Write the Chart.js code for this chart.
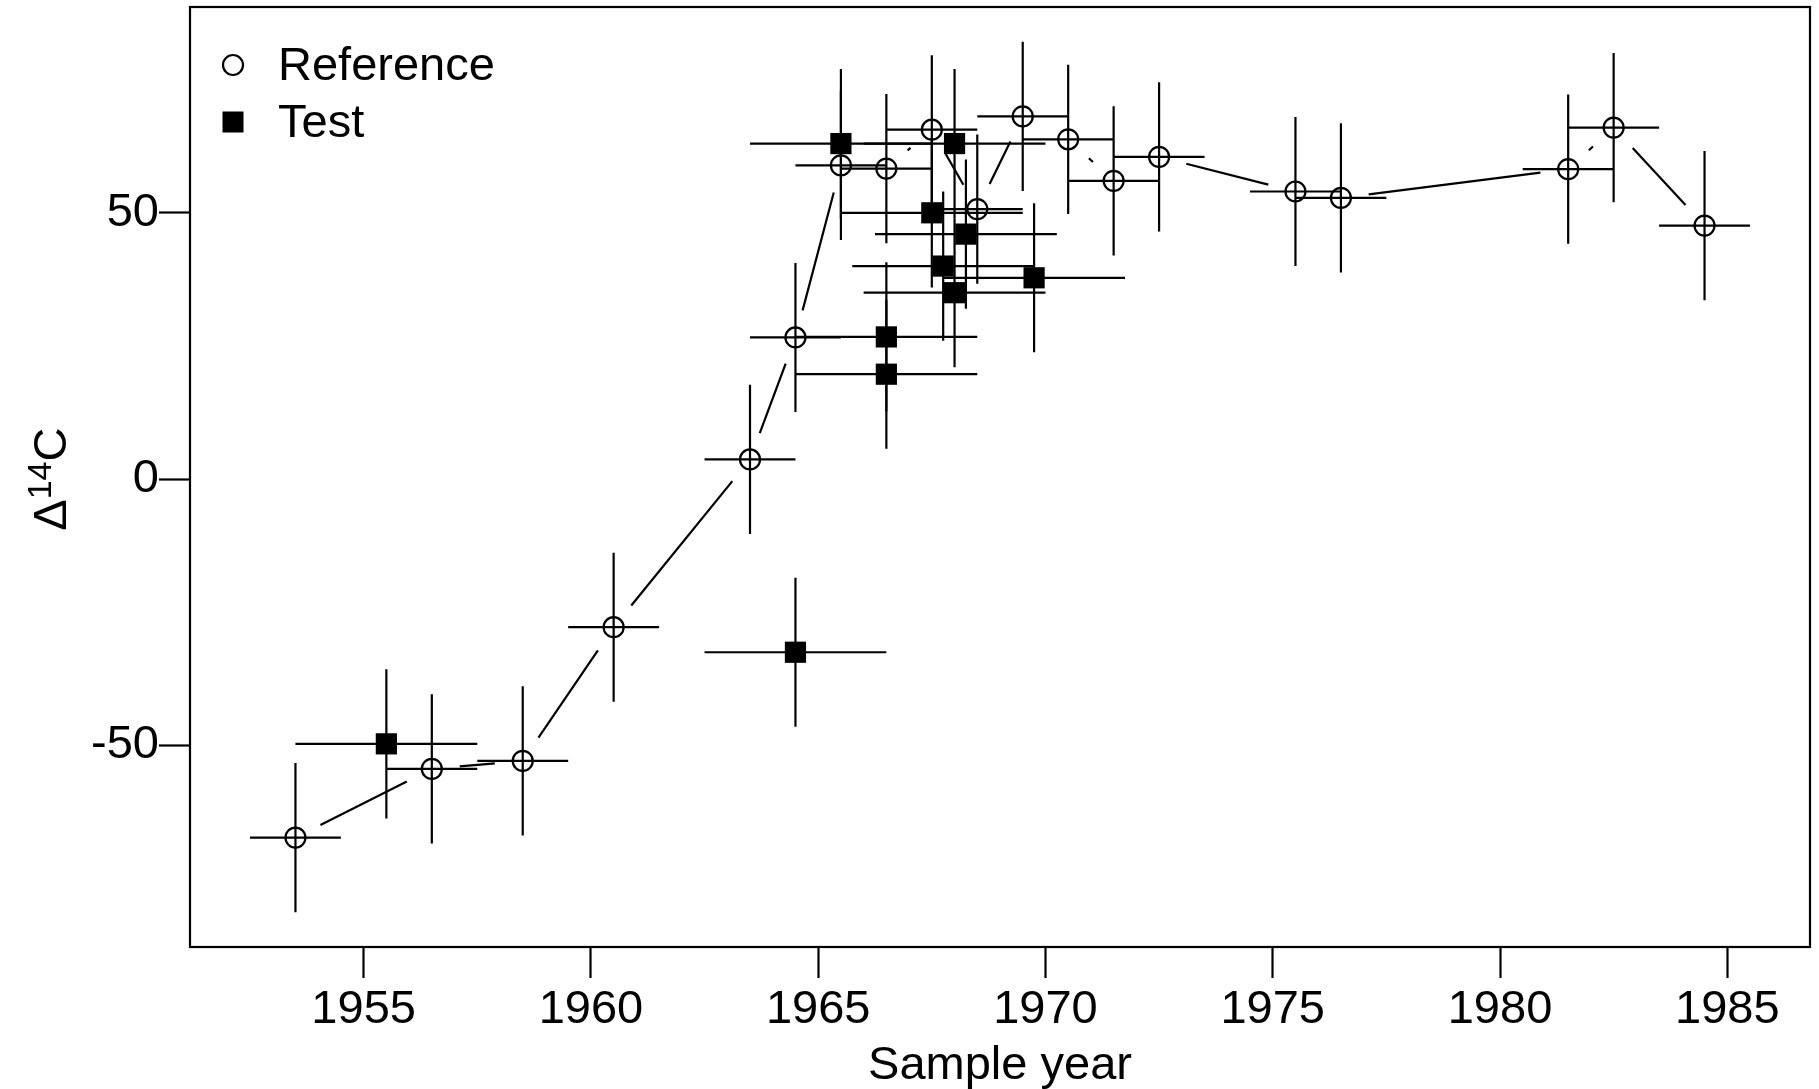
<!DOCTYPE html>
<html>
<head>
<meta charset="utf-8">
<title>Sample year vs Δ14C</title>
<script src="https://cdn.jsdelivr.net/npm/chart.js@4.4.1/dist/chart.umd.min.js"></script>
<style>
  html, body { margin: 0; padding: 0; background: #fff; }
  #wrap { width: 1819px; height: 1089px; }
</style>
</head>
<body>
<div id="wrap"><canvas id="chart"></canvas></div>
<script>
// ===== DATA =====
// Reference samples (open circles, joined by a gapped line)
const refYears   = [1953.5, 1956.5, 1958.5, 1960.5, 1963.5, 1964.5, 1965.5, 1966.5, 1967.5, 1968.5,
                    1969.5, 1970.5, 1971.5, 1972.5, 1975.5, 1976.5, 1981.5, 1982.5, 1984.5];
const refD14C    = [-67.3, -54.4, -52.9, -27.8, 3.7, 26.6, 58.9, 58.3, 65.6, 50.7,
                    68.1, 63.8, 56.0, 60.5, 54.0, 52.8, 58.2, 66.0, 47.6];
const refYearErr = [1, 1, 1, 1, 1, 1, 1, 1, 1, 1, 1, 1, 1, 1, 1, 1, 1, 1, 1];
const refD14CErr = [14, 14, 14, 14, 14, 14, 14, 14, 14, 14, 14, 14, 14, 14, 14, 14, 14, 14, 14];

// Test samples (filled squares)
const testYears   = [1955.5, 1964.5, 1965.5, 1966.5, 1966.5, 1967.5, 1967.75, 1968, 1968, 1968.25, 1969.75];
const testD14C    = [-49.7, -32.5, 63.0, 26.7, 19.7, 50.0, 40.0, 63.0, 35.0, 46.0, 37.8];
const testYearErr = [2, 2, 2, 2, 2, 2, 2, 2, 2, 2, 2];
const testD14CErr = [14, 14, 14, 14, 14, 14, 14, 14, 14, 14, 14];

// Axes
const xTicks = [1955, 1960, 1965, 1970, 1975, 1980, 1985];
const yTicks = [-50, 0, 50];
const xRange = [1951.18, 1986.82];
const yRange = [-87.84, 88.64];

const FONT = 'Liberation Sans, Arial, sans-serif';
const LW = 2.2;

Chart.defaults.font.family = FONT;
Chart.defaults.font.size = 47;
Chart.defaults.color = '#000';

// ===== PLUGINS =====
// Error bars (no caps), drawn under the markers
const errorBars = {
    id: 'errorBars',
    beforeDatasetsDraw(chart) {
        const { ctx, scales: { x, y } } = chart;
        ctx.save();
        ctx.strokeStyle = '#000';
        ctx.lineWidth = LW;
        chart.data.datasets.forEach(ds => {
            ds.data.forEach((p, i) => {
                const px = x.getPixelForValue(p.x);
                const py = y.getPixelForValue(p.y);
                ctx.beginPath();
                ctx.moveTo(x.getPixelForValue(p.x - ds.xErr[i]), py);
                ctx.lineTo(x.getPixelForValue(p.x + ds.xErr[i]), py);
                ctx.moveTo(px, y.getPixelForValue(p.y - ds.yErr[i]));
                ctx.lineTo(px, y.getPixelForValue(p.y + ds.yErr[i]));
                ctx.stroke();
            });
        });
        ctx.restore();
    }
};

// Line with gaps around the points (like R type = "b")
const gappedLine = {
    id: 'gappedLine',
    beforeDatasetsDraw(chart) {
        const { ctx } = chart;
        const gap = 28;
        chart.data.datasets.forEach((ds, di) => {
            if (!ds.gapLine) return;
            const pts = chart.getDatasetMeta(di).data;
            ctx.save();
            ctx.strokeStyle = '#000';
            ctx.lineWidth = LW;
            ctx.beginPath();
            for (let i = 0; i < pts.length - 1; i++) {
                const a = pts[i], b = pts[i + 1];
                const dx = b.x - a.x, dy = b.y - a.y;
                const d = Math.hypot(dx, dy);
                if (d <= 2 * gap) continue;
                const ux = dx / d, uy = dy / d;
                ctx.moveTo(a.x + ux * gap, a.y + uy * gap);
                ctx.lineTo(b.x - ux * gap, b.y - uy * gap);
            }
            ctx.stroke();
            ctx.restore();
        });
    }
};

// Box, legend inside the plot and the y title with a superscript
const frame = {
    id: 'frame',
    afterDraw(chart) {
        const { ctx, chartArea: a, scales: { y } } = chart;
        ctx.save();
        ctx.strokeStyle = '#000';
        ctx.lineWidth = LW;
        ctx.strokeRect(a.left, a.top, a.right - a.left, a.bottom - a.top);

        // legend
        const lx = a.left + 43;
        ctx.font = '47px ' + FONT;
        ctx.fillStyle = '#000';
        ctx.textBaseline = 'middle';
        chart.data.datasets.forEach((ds, i) => {
            const ly = a.top + 58 + i * 57;
            if (ds.pointStyle === 'rect') {
                ctx.fillRect(lx - 10.5, ly - 10.5, 21, 21);
            } else {
                ctx.beginPath();
                ctx.arc(lx, ly, 10, 0, Math.PI * 2);
                ctx.stroke();
            }
            ctx.fillText(ds.label, lx + 45, ly + 2);
        });

        // y axis title: Δ¹⁴C rotated
        const big = 47, small = 34;
        ctx.translate(66, y.getPixelForValue(0));
        ctx.rotate(-Math.PI / 2);
        ctx.textBaseline = 'alphabetic';
        ctx.font = big + 'px ' + FONT;
        const wD = ctx.measureText('\u0394').width;
        const wC = ctx.measureText('C').width;
        ctx.font = small + 'px ' + FONT;
        const w14 = ctx.measureText('14').width;
        let tx = -(wD + w14 + wC) / 2;
        ctx.font = big + 'px ' + FONT;
        ctx.fillText('\u0394', tx, 0);
        tx += wD;
        ctx.font = small + 'px ' + FONT;
        ctx.fillText('14', tx, -15);
        tx += w14;
        ctx.font = big + 'px ' + FONT;
        ctx.fillText('C', tx, 0);
        ctx.restore();
    }
};

// ===== CHART =====
const toPoints = (xs, ys) => xs.map((v, i) => ({ x: v, y: ys[i] }));

new Chart(document.getElementById('chart'), {
    type: 'scatter',
    data: {
        datasets: [
            {
                label: 'Reference',
                data: toPoints(refYears, refD14C),
                xErr: refYearErr,
                yErr: refD14CErr,
                gapLine: true,
                pointStyle: 'circle',
                pointRadius: 10,
                pointHoverRadius: 10,
                borderWidth: LW,
                borderColor: '#000',
                backgroundColor: 'rgba(0,0,0,0)'
            },
            {
                label: 'Test',
                data: toPoints(testYears, testD14C),
                xErr: testYearErr,
                yErr: testD14CErr,
                pointStyle: 'rect',
                pointRadius: 15,
                pointHoverRadius: 15,
                borderWidth: 0,
                borderColor: '#000',
                backgroundColor: '#000'
            }
        ]
    },
    options: {
        responsive: true,
        maintainAspectRatio: false,
        animation: false,
        layout: { autoPadding: false, padding: { left: 0, right: 9, top: 7, bottom: 0 } },
        plugins: {
            legend: { display: false },
            tooltip: { enabled: false }
        },
        scales: {
            x: {
                type: 'linear',
                min: xRange[0],
                max: xRange[1],
                afterBuildTicks: s => { s.ticks = xTicks.map(v => ({ value: v })); },
                afterFit: s => { s.height = 142; s.paddingLeft = 0; s.paddingRight = 0; },
                border: { display: false },
                grid: { drawOnChartArea: false, drawTicks: true, tickLength: 31, tickWidth: LW, tickColor: '#000' },
                ticks: { color: '#000', padding: 4, maxRotation: 0, font: { size: 47 }, callback: v => String(v) },
                title: { display: true, text: 'Sample year', color: '#000', font: { size: 47 }, padding: { top: 0, bottom: -5 } }
            },
            y: {
                type: 'linear',
                min: yRange[0],
                max: yRange[1],
                afterBuildTicks: s => { s.ticks = yTicks.map(v => ({ value: v })); },
                afterFit: s => { s.width = 190; s.paddingTop = 0; s.paddingBottom = 0; },
                border: { display: false },
                grid: { drawOnChartArea: false, drawTicks: true, tickLength: 31, tickWidth: LW, tickColor: '#000' },
                ticks: { color: '#000', padding: 0, font: { size: 47 }, callback: v => String(v) }
            }
        }
    },
    plugins: [errorBars, gappedLine, frame]
});
</script>
</body>
</html>
